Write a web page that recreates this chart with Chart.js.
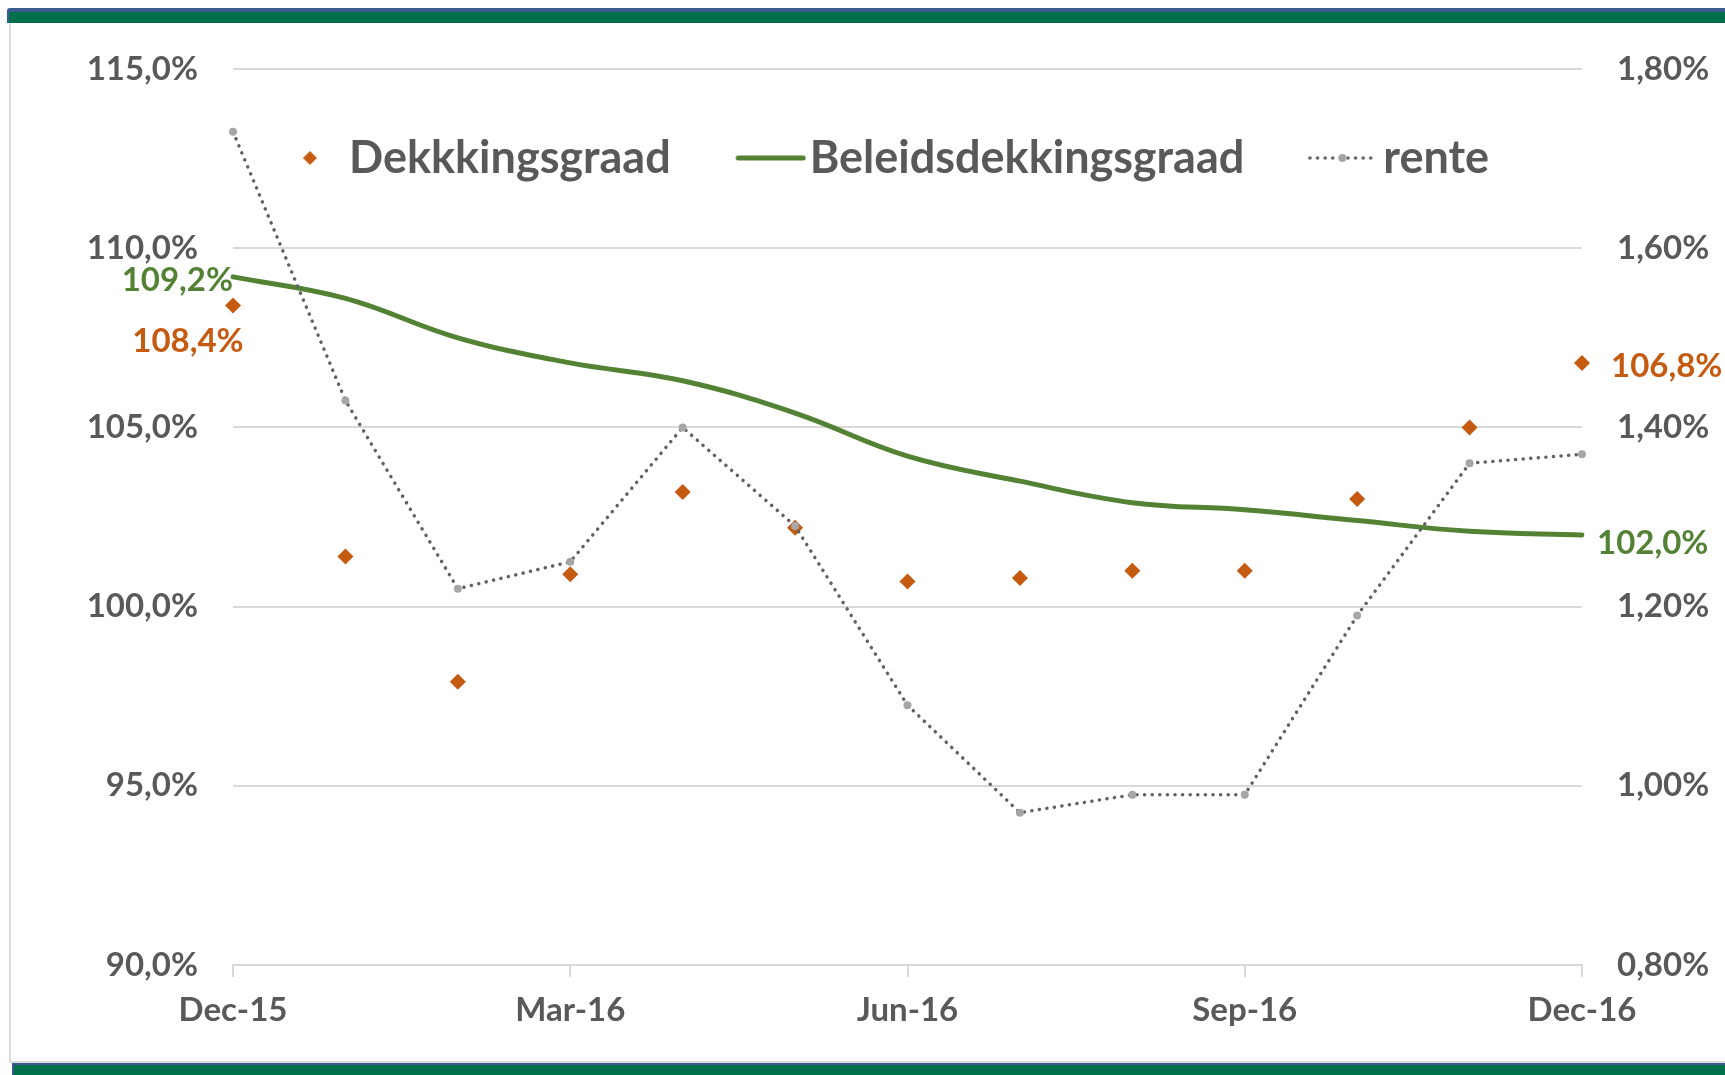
<!DOCTYPE html>
<html>
<head>
<meta charset="utf-8">
<script src="https://cdn.jsdelivr.net/npm/chart.js@4.4.1/dist/chart.umd.min.js"></script>
<style>
html,body{margin:0;padding:0;background:#fff;}
#wrap{position:relative;width:1725px;height:1075px;overflow:hidden;background:#fff;}
#topband{position:absolute;left:7px;top:8px;width:1718px;height:15px;background:#00704a;border-top:4px solid #3b5a8f;border-left:2px solid #3b5a8f;box-sizing:border-box;border-radius:3px 0 0 0;}
#leftline{position:absolute;left:9px;top:23px;width:2px;height:1039px;background:#dcdcdc;}
#botline{position:absolute;left:9px;top:1061px;width:1716px;height:2px;background:#dcdcdc;}
#botband{position:absolute;left:12px;top:1063px;width:1713px;height:12px;background:#00704a;border-top:2px solid #3b5a8f;border-left:2px solid #3b5a8f;box-sizing:border-box;}
#c{position:absolute;left:0;top:0;}
</style>
</head>
<body>
<div id="wrap">
  <div id="topband"></div>
  <div id="leftline"></div>
  <div id="botline"></div>
  <div id="botband"></div>
  <canvas id="c" width="1725" height="1075"></canvas>
</div>
<script>
// ---------------- data ----------------
const months = ['Dec-15','Jan-16','Feb-16','Mar-16','Apr-16','May-16','Jun-16','Jul-16','Aug-16','Sep-16','Oct-16','Nov-16','Dec-16'];
const shownMonths = ['Dec-15','Mar-16','Jun-16','Sep-16','Dec-16'];
const dekkingsgraad = [108.4, 101.4, 97.9, 100.9, 103.2, 102.2, 100.7, 100.8, 101.0, 101.0, 103.0, 105.0, 106.8];
const beleidsdekkingsgraad = [109.2, 108.6, 107.5, 106.8, 106.3, 105.4, 104.2, 103.5, 102.9, 102.7, 102.4, 102.1, 102.0];
const rente = [1.73, 1.43, 1.22, 1.25, 1.40, 1.29, 1.09, 0.97, 0.99, 0.99, 1.19, 1.36, 1.37];
const seriesNames = ['Dekkkingsgraad', 'Beleidsdekkingsgraad', 'rente'];
const leftTicks = [90, 95, 100, 105, 110, 115];
const rightTicks = [0.8, 1.0, 1.2, 1.4, 1.6, 1.8];

// ---------------- style ----------------
const ORANGE = '#C55A11', GREEN = '#548235', TXT = '#595959', GRID = '#D9D9D9';
const DOT = '#626262', DOTPT = '#a6a6a6';
const FONT = "Lato, 'Open Sans', sans-serif";
const LEGEND_PAD = 52.5;
const LEGEND_LEFT = 262.5 - LEGEND_PAD, LEGEND_TOP = 68, LEGEND_H = 200;

function pct1(v){ return v.toFixed(1).replace('.', ',') + '%'; }
function pct2(v){ return v.toFixed(2).replace('.', ',') + '%'; }

function makeIcon(w, h, draw){
  const c = document.createElement('canvas');
  c.width = w; c.height = h;
  draw(c.getContext('2d'), w, h);
  return c;
}
const legendIcons = [
  makeIcon(48, 20, (g, w, h) => {
    const cx = 39.5, cy = h / 2, r = 7;
    g.fillStyle = ORANGE; g.beginPath();
    g.moveTo(cx - r, cy); g.lineTo(cx, cy - r); g.lineTo(cx + r, cy); g.lineTo(cx, cy + r);
    g.closePath(); g.fill();
  }),
  makeIcon(102, 20, (g, w, h) => {
    g.strokeStyle = GREEN; g.lineWidth = 5; g.lineCap = 'round';
    g.beginPath(); g.moveTo(34, h / 2); g.lineTo(99, h / 2); g.stroke();
  }),
  makeIcon(94, 20, (g, w, h) => {
    g.strokeStyle = DOT; g.lineWidth = 3.5; g.lineCap = 'round'; g.setLineDash([0.1, 7.5]);
    g.beginPath(); g.moveTo(28, h / 2); g.lineTo(93, h / 2); g.stroke();
    g.setLineDash([]); g.fillStyle = DOTPT;
    g.beginPath(); g.arc(60.5, h / 2, 4, 0, Math.PI * 2); g.fill();
  })
];

const labelPlacement = [
  {ds: 0, i: 0,  dx: -45, dy: 36, align: 'center', color: ORANGE},
  {ds: 1, i: 0,  dx: 0,   dy: 3,  align: 'right',  color: GREEN},
  {ds: 0, i: 12, dx: 29,  dy: 3,  align: 'left',   color: ORANGE},
  {ds: 1, i: 12, dx: 15,  dy: 8,  align: 'left',   color: GREEN}
];

const pointLabelPlugin = {
  id: 'pointLabels',
  afterDatasetsDraw(chart) {
    const ctx = chart.ctx;
    ctx.save();
    ctx.font = 'bold 33px ' + FONT;
    ctx.textBaseline = 'middle';
    labelPlacement.forEach(p => {
      const el = chart.getDatasetMeta(p.ds).data[p.i];
      const v = chart.data.datasets[p.ds].data[p.i];
      ctx.fillStyle = p.color;
      ctx.textAlign = p.align;
      ctx.fillText(pct1(v), el.x + p.dx, el.y + p.dy);
    });
    ctx.restore();
  }
};

// legend sits inside the plot (as in the original): move/resize its box after layout
const legendPlacePlugin = {
  id: 'legendPlace',
  afterLayout(chart) {
    const lg = chart.legend;
    if (lg) {
      const w = lg.right - lg.left;
      lg.left = LEGEND_LEFT; lg.right = LEGEND_LEFT + w; lg.width = w;
      lg.top = LEGEND_TOP; lg.bottom = LEGEND_TOP + LEGEND_H; lg.height = LEGEND_H;
    }
  }
};

new Chart(document.getElementById('c'), {
  type: 'line',
  data: {
    labels: months,
    datasets: [
      {
        label: seriesNames[0], data: dekkingsgraad, yAxisID: 'y', order: 2,
        showLine: false, pointStyle: 'rectRot', pointRadius: 8, pointHoverRadius: 8,
        backgroundColor: ORANGE, borderColor: ORANGE, pointBorderWidth: 0
      },
      {
        label: seriesNames[1], data: beleidsdekkingsgraad, yAxisID: 'y', order: 1,
        borderColor: GREEN, backgroundColor: GREEN, borderWidth: 5, tension: 0.4,
        pointRadius: 0, pointHoverRadius: 0, borderCapStyle: 'round'
      },
      {
        label: seriesNames[2], data: rente, yAxisID: 'y1', order: 0,
        borderColor: DOT, backgroundColor: DOTPT, borderWidth: 3.5, borderDash: [0.1, 7.5],
        borderCapStyle: 'round', tension: 0,
        pointRadius: 4, pointHoverRadius: 4, pointBackgroundColor: DOTPT, pointBorderWidth: 0
      }
    ]
  },
  options: {
    responsive: false,
    animation: false,
    devicePixelRatio: 1,
    layout: { padding: { top: 68, left: 0, right: 0, bottom: 0 } },
    plugins: {
      tooltip: { enabled: false },
      legend: {
        position: 'top',
        align: 'start',
        maxHeight: 1,
        title: { display: true, text: '', padding: { top: 14, bottom: 0 }, font: { size: 1, lineHeight: 1 } },
        labels: {
          usePointStyle: true,
          pointStyleWidth: 64,
          padding: LEGEND_PAD,
          color: TXT,
          font: { family: FONT, size: 45, weight: 'bold' },
          generateLabels(chart) {
            const items = Chart.defaults.plugins.legend.labels.generateLabels(chart);
            items.forEach(it => { it.pointStyle = legendIcons[it.datasetIndex]; it.text = seriesNames[it.datasetIndex]; });
            return items.sort((a, b) => a.datasetIndex - b.datasetIndex);
          }
        }
      }
    },
    scales: {
      x: {
        type: 'category',
        offset: false,
        afterBuildTicks(scale) { scale.ticks = scale.ticks.filter(t => shownMonths.includes(months[t.value])); },
        afterFit(scale) { scale.height = 110; },
        grid: { drawOnChartArea: false, drawTicks: true, tickLength: 12, color: GRID, lineWidth: 2 },
        border: { display: true, color: GRID, width: 2 },
        ticks: { autoSkip: false, maxRotation: 0, padding: 14, color: TXT, font: { family: FONT, size: 33, weight: 'bold' } }
      },
      y: {
        position: 'left', min: 90, max: 115,
        afterBuildTicks(scale) { scale.ticks = leftTicks.map(v => ({ value: v })); },
        afterFit(scale) { scale.width = 233; },
        grid: { color: GRID, lineWidth: 2, drawTicks: false },
        border: { display: false },
        ticks: { padding: 35, color: TXT, font: { family: FONT, size: 33, weight: 'bold' }, callback: v => pct1(v) }
      },
      y1: {
        position: 'right', min: 0.8, max: 1.8,
        afterBuildTicks(scale) { scale.ticks = rightTicks.map(v => ({ value: v })); },
        afterFit(scale) { scale.width = 143; },
        grid: { drawOnChartArea: false, drawTicks: false },
        border: { display: false },
        ticks: { padding: 35, color: TXT, font: { family: FONT, size: 33, weight: 'bold' }, callback: v => pct2(v) }
      }
    }
  },
  plugins: [pointLabelPlugin, legendPlacePlugin]
});
</script>
</body>
</html>
